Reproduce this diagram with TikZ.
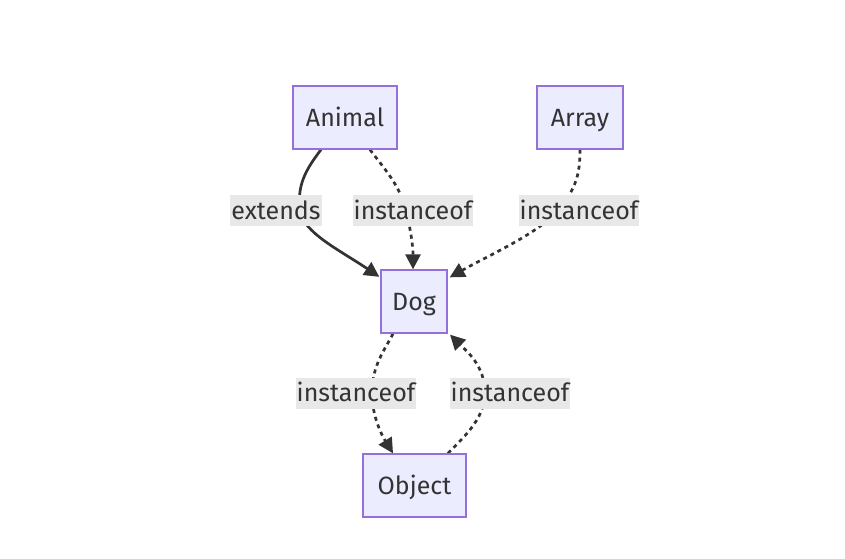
\documentclass[tikz,border=0pt]{standalone}
\usepackage{fontspec}
\setmainfont{Fira Sans}
\usetikzlibrary{arrows.meta,backgrounds}
\definecolor{nodefill}{HTML}{ECECFF}
\definecolor{nodeline}{HTML}{9370DB}
\definecolor{ink}{HTML}{333333}
\definecolor{lblbg}{HTML}{E8E8E8}
\tikzset{
  txt/.style={font=\fontsize{25}{30}\selectfont, text height=20pt, text depth=3pt, text=ink},
  box/.style={txt, draw=nodeline, fill=nodefill, line width=1.3pt, minimum height=63pt, inner sep=0pt},
  lbl/.style={txt, fill=lblbg, minimum height=31pt, inner xsep=1pt, inner ysep=0pt},
  edge/.style={draw=ink, line width=2.7pt, -{Triangle[length=15pt,width=15pt]}},
  dotted edge/.style={edge, dash pattern=on 4pt off 4pt},
}
\begin{document}
\begin{tikzpicture}[x=1pt,y=-1pt]
\useasboundingbox (0,0) rectangle (845,558);
\node[box, minimum width=104pt] (Animal) at (345,117.5) {Animal};
\node[box, minimum width=86pt] (Array) at (580,117.5) {Array};
\node[box, minimum width=66pt] (Dog) at (414,301.5) {Dog};
\node[box, minimum width=103pt] (Object) at (414.5,485.5) {Object};
\node[lbl] (l1) at (276,210.5) {extends};
\node[lbl] (l2) at (413,210.5) {instanceof};
\node[lbl] (l3) at (579,210.5) {instanceof};
\node[lbl] (l4) at (356,393) {instanceof};
\node[lbl] (l5) at (510,393) {instanceof};
\begin{pgfonlayer}{background}
\draw[edge] ([xshift=-24pt]Animal.south) .. controls +(-16,21) and +(-3,-25) .. ([xshift=24pt]l1.center) .. controls +(3,22) and +(-40,-27) .. ([xshift=-1pt,yshift=-7.5pt]Dog.north west);
\draw[dotted edge] ([xshift=25pt]Animal.south) .. controls +(15,20) and +(-6,-25) .. ([xshift=-7pt]l2.center) .. controls +(6,25) and +(0,-20) .. ([xshift=-1pt]Dog.north);
\draw[dotted edge] (Array.south) .. controls +(0,25) and +(18,-22) .. ([xshift=-21pt]l3.center) .. controls +(-20,23) and +(41,-23) .. ([xshift=2pt,yshift=-8pt]Dog.north east);
\draw[dotted edge] ([xshift=-21pt]Dog.south) .. controls +(-8,16) and +(0,-28) .. ([xshift=16pt]l4.center) .. controls +(0,27) and +(-8,-13) .. ([xshift=-21.5pt]Object.north);
\draw[dotted edge] ([xshift=33.5pt]Object.north) .. controls +(12,-13) and +(0,27) .. ([xshift=-25pt]l5.center) .. controls +(0,-28) and +(15,15) .. ([xshift=36pt,yshift=-1pt]Dog.south);
\end{pgfonlayer}
\end{tikzpicture}
\end{document}
